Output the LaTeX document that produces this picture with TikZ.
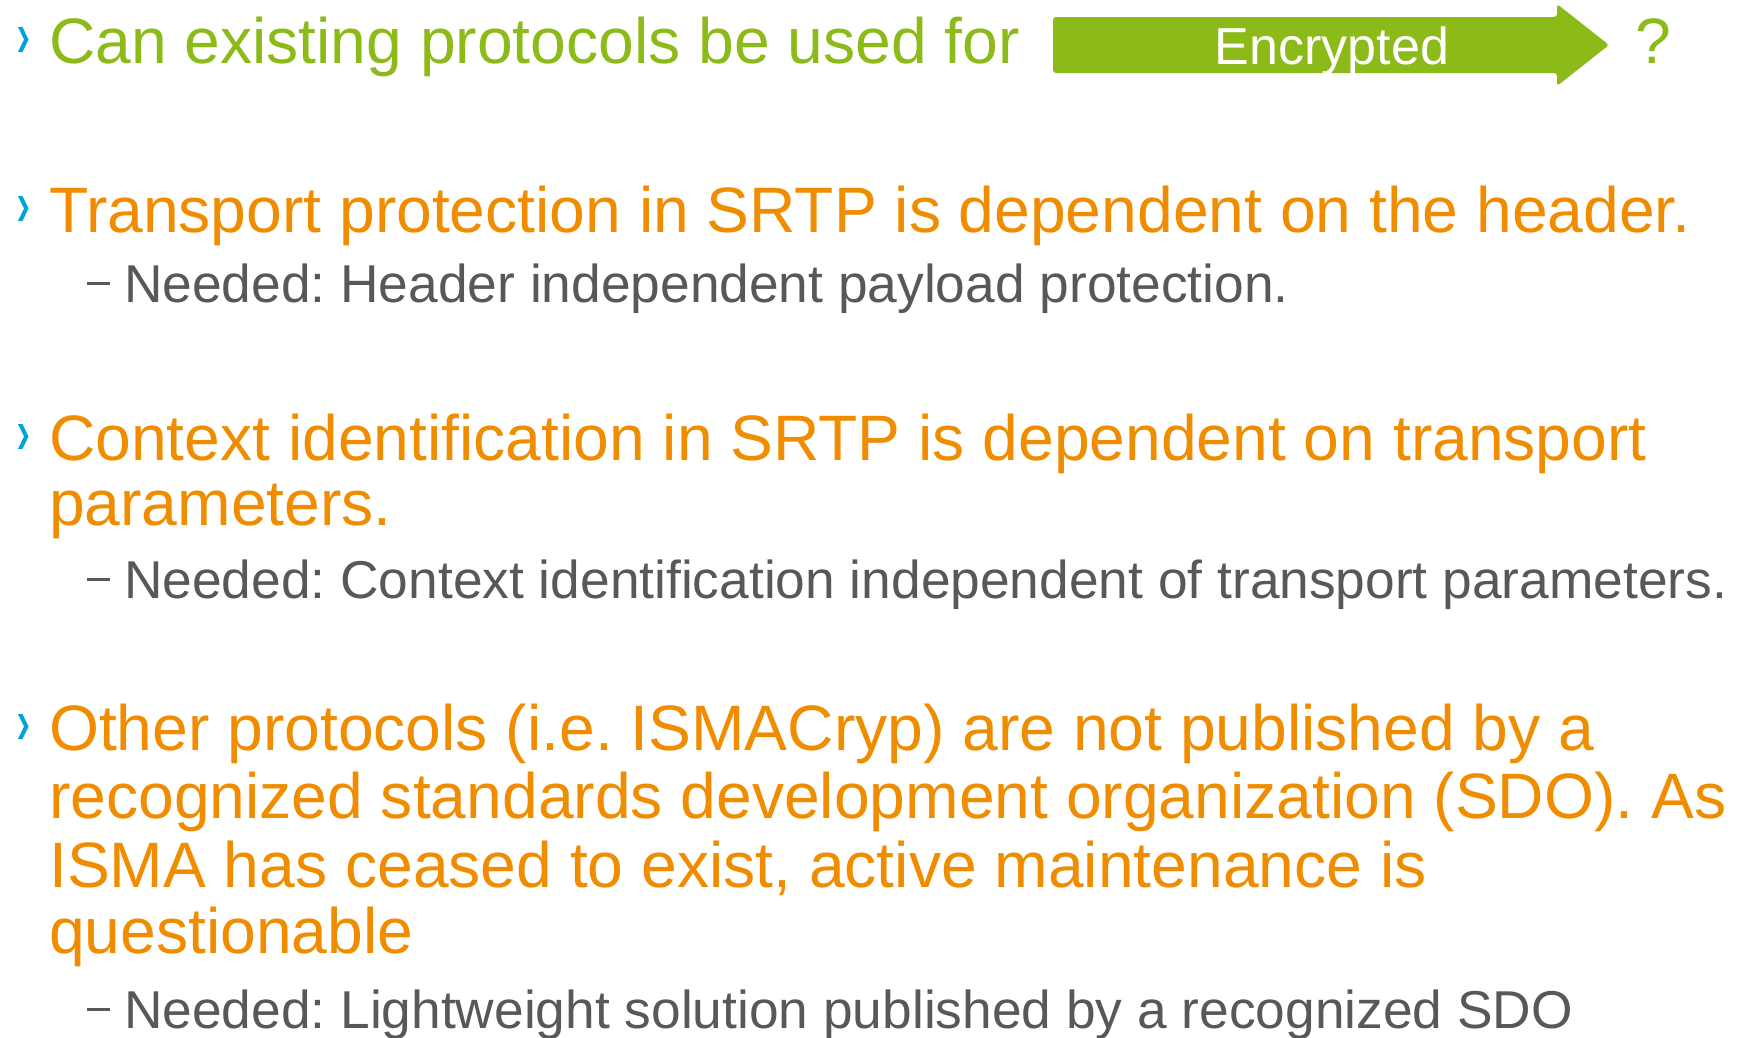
\documentclass[tikz,border=0pt]{standalone}
\usepackage{fontspec}
\setmainfont{Liberation Sans}
\frenchspacing
\definecolor{leafgreen}{RGB}{140,186,24}
\definecolor{amber}{RGB}{240,140,0}
\definecolor{slate}{RGB}{88,88,90}
\definecolor{cyanblue}{RGB}{0,163,217}
\begin{document}
\begin{tikzpicture}[x=1pt,y=-1pt,
  headline/.style={anchor=base west,inner sep=0pt,font=\fontsize{64.2}{68}\selectfont},
  subline/.style={anchor=base west,inner sep=0pt,text=slate,font=\fontsize{53.3}{60}\selectfont},
  bulletmark/.style={fill=cyanblue},
  subdash/.style={draw=slate,line width=3pt}]
\useasboundingbox (0,0) rectangle (1741,1037);
% chevron bullet and sub dash, placed relative to a baseline
\newcommand{\chevronat}[1]{\fill[bulletmark] (18,#1-36) -- (22.5,#1-36) -- (28.5,#1-23.5) -- (22.5,#1-11) -- (18,#1-11) -- (24,#1-23.5) -- cycle;}
\newcommand{\dashat}[1]{\draw[subdash] (87,#1-19) -- (110,#1-19);}

% question line with the arrow
\chevronat{63}
\node[headline,text=leafgreen] (q1) at (49,63) {Can existing protocols be used for};
\fill[leafgreen,rounded corners=3pt] (1053,17) -- (1557,17) -- (1557,4) -- (1609,45) -- (1557,86) -- (1557,73) -- (1053,73) -- cycle;
\node[anchor=base,inner sep=0pt,text=white,font=\fontsize{52}{60}\selectfont] (enc) at (1332,64) {Encrypted};
\node[headline,text=leafgreen] (qm) at (1635,63) {?};

% first point
\chevronat{232}
\node[headline,text=amber] (p1) at (49,232) {Transport protection in SRTP is dependent on the header.};
\dashat{302}
\node[subline] (s1) at (124,302) {Needed: Header independent payload protection.};

% second point
\chevronat{460}
\node[headline,text=amber] (p2a) at (49,460) {Context identification in SRTP is dependent on transport};
\node[headline,text=amber] (p2b) at (49,525) {parameters.};
\dashat{598}
\node[subline] (s2) at (124,598) {Needed: Context identification independent of transport parameters.};

% third point
\chevronat{750}
\node[headline,text=amber] (p3a) at (49,750) {Other protocols (i.e. ISMACryp) are not published by a};
\node[headline,text=amber] (p3b) at (49,818) {recognized standards development organization (SDO). As};
\node[headline,text=amber] (p3c) at (49,887) {ISMA has ceased to exist, active maintenance is};
\node[headline,text=amber] (p3d) at (49,953) {questionable};
\dashat{1028}
\node[subline] (s3) at (124,1028) {Needed: Lightweight solution published by a recognized SDO};
\end{tikzpicture}
\end{document}
